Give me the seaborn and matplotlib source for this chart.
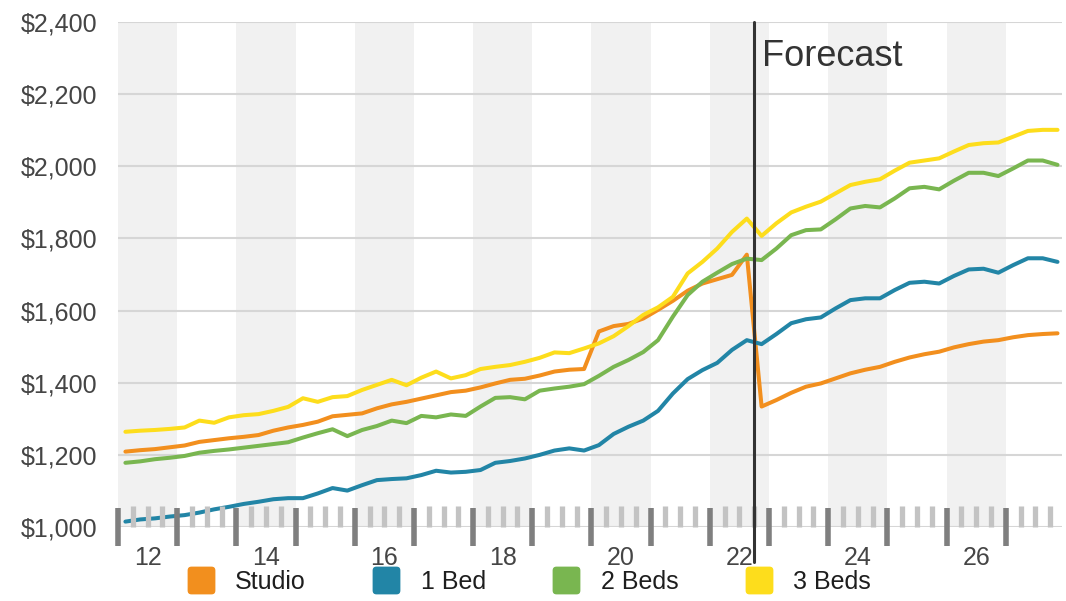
import numpy as np
import pandas as pd
import matplotlib
matplotlib.use("Agg")
import matplotlib.pyplot as plt
from matplotlib.ticker import FuncFormatter, MultipleLocator
from matplotlib.lines import Line2D
from matplotlib.patches import FancyBboxPatch
import matplotlib.transforms as mtransforms
import seaborn as sns

# Quarterly average rents, 2012 Q1 through 2027 Q4 (plotted at quarter midpoints)
quarters = np.arange(2012.125, 2028.0, 0.25)

studio = [1209, 1213, 1216, 1221, 1226, 1236, 1241, 1246, 1250, 1255, 1267, 1276, 1283, 1292,
          1307, 1311, 1315, 1329, 1340, 1347, 1356, 1365, 1374, 1378, 1387, 1398, 1408, 1411,
          1420, 1431, 1436, 1438, 1542, 1557, 1563, 1578, 1602, 1627, 1655, 1675, 1687, 1699, 1755,
          1334, 1352, 1372, 1389, 1398, 1412, 1426, 1436, 1444, 1458, 1470, 1479, 1486, 1498,
          1507, 1514, 1518, 1526, 1532, 1535, 1537]
one_bed = [1015, 1021, 1024, 1029, 1033, 1040, 1049, 1056, 1064, 1070, 1077, 1080, 1080, 1093,
           1108, 1101, 1116, 1130, 1133, 1135, 1144, 1156, 1151, 1153, 1158, 1178, 1183, 1190,
           1200, 1212, 1218, 1212, 1227, 1258, 1278, 1295, 1322, 1370, 1410, 1435, 1455, 1491, 1518,
           1507, 1535, 1565, 1576, 1581, 1606, 1629, 1634, 1634, 1657, 1677, 1680, 1675, 1696,
           1714, 1716, 1705, 1726, 1745, 1745, 1735]
two_beds = [1178, 1182, 1188, 1192, 1197, 1206, 1211, 1215, 1220, 1225, 1230, 1235, 1248, 1260,
            1271, 1252, 1269, 1280, 1295, 1288, 1308, 1304, 1312, 1308, 1334, 1358, 1360, 1354,
            1378, 1384, 1389, 1396, 1419, 1444, 1463, 1485, 1518, 1583, 1643, 1680, 1705, 1729, 1744,
            1740, 1772, 1809, 1823, 1825, 1853, 1883, 1890, 1886, 1911, 1939, 1943, 1936, 1960,
            1982, 1982, 1973, 1994, 2016, 2016, 2004]
three_beds = [1264, 1267, 1269, 1272, 1276, 1295, 1289, 1304, 1310, 1313, 1322, 1333, 1357, 1347,
              1360, 1363, 1380, 1394, 1408, 1393, 1414, 1431, 1412, 1421, 1438, 1444, 1449, 1458,
              1469, 1484, 1482, 1495, 1509, 1529, 1557, 1588, 1609, 1638, 1703, 1735, 1772, 1818, 1855,
              1807, 1842, 1872, 1888, 1902, 1925, 1948, 1957, 1964, 1988, 2010, 2016, 2022, 2041,
              2059, 2064, 2066, 2082, 2098, 2101, 2101]

units = ["Studio", "1 Bed", "2 Beds", "3 Beds"]
colors = ["#f28f1e", "#2285a6", "#79b650", "#fddd1c"]
forecast_start = 2022.75
y_ticks = [1000, 1200, 1400, 1600, 1800, 2000, 2200, 2400]

df = pd.concat([
    pd.DataFrame({"year": quarters, "rent": vals, "unit": name})
    for name, vals in zip(units, [studio, one_bed, two_beds, three_beds])
])

sns.set_theme(style="white")
plt.rcParams["font.family"] = ["Liberation Sans", "DejaVu Sans"]

fig = plt.figure(figsize=(10.66, 6.01), dpi=100)
ax = fig.add_axes([0.1107, 0.1231, 0.8855, 0.8403])

# alternating year bands
for yr in range(2012, 2028, 2):
    ax.axvspan(yr, yr + 1, color="#f1f1f1", zorder=0, lw=0)

sns.lineplot(data=df, x="year", y="rent", hue="unit", hue_order=units,
             palette=colors, linewidth=2.9, legend=False, ax=ax, zorder=2)

ax.set_xlim(2012, 2027.95)
ax.set_ylim(1000, 2400)
ax.set_yticks(y_ticks)
ax.hlines(y_ticks, 2012, 2027.95, colors="#d6d6d6", linewidth=1.5, zorder=1)
ax.yaxis.set_major_formatter(FuncFormatter(lambda v, p: f"${v:,.0f}"))

ax.xaxis.set_major_locator(MultipleLocator(1.0))
ax.xaxis.set_minor_locator(MultipleLocator(0.25))
ax.xaxis.set_major_formatter(FuncFormatter(lambda v, p: ""))


def year_label(v, p):
    yr = int(np.floor(v))
    if abs(v - yr - 0.5) < 1e-6 and yr % 2 == 0:
        return f"{yr % 100:02d}"
    return ""


ax.xaxis.set_minor_formatter(FuncFormatter(year_label))
ax.set_axisbelow(False)
ax.tick_params(axis="x", which="major", bottom=True, direction="inout", length=27,
               width=4.0, color="#7f7f7f", labelbottom=False)
ax.tick_params(axis="x", which="minor", bottom=True, direction="in", length=15,
               width=3.8, color="#c3c3c3", pad=14, labelsize=18, labelcolor="#454545")
ax.tick_params(axis="y", left=False, length=0, pad=15, labelsize=18, labelcolor="#454545")
for s in ax.spines.values():
    s.set_visible(False)
ax.set_xlabel("")
ax.set_ylabel("")

# forecast marker
ax.axvline(forecast_start, ymin=-0.07, ymax=1.0, color="#333333", lw=2.2,
           clip_on=False, zorder=4)
trans = mtransforms.blended_transform_factory(ax.transData, ax.transAxes)
ax.text(forecast_start + 0.14, 0.913, "Forecast", transform=trans, fontsize=26,
        color="#333333", va="baseline", ha="left")

# rounded-square legend swatches
swatch = FancyBboxPatch((-0.5, -0.5), 1, 1,
                        boxstyle="round,pad=0,rounding_size=0.14").get_path()
handles = [Line2D([], [], marker=swatch, linestyle="none", markersize=20,
                  markerfacecolor=c, markeredgewidth=0) for c in colors]
fig.legend(handles, units, loc="center", bbox_to_anchor=(0.496, 0.032), ncol=4,
           frameon=False, fontsize=18, handletextpad=0.8, columnspacing=2.65,
           handlelength=1.15, labelcolor="#1e1e1e")

fig.savefig("out.png", dpi=100)
